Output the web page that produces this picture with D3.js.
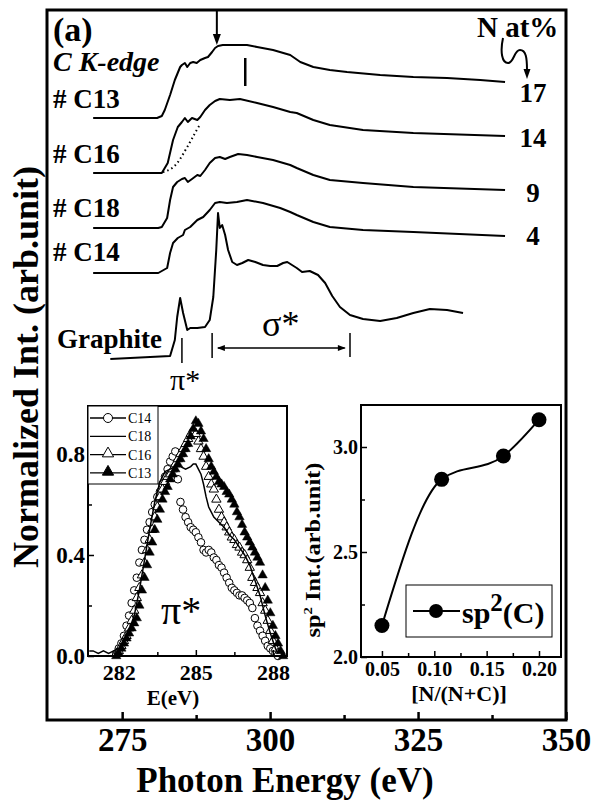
<!DOCTYPE html>
<html>
<head>
<meta charset="utf-8">
<script src="https://cdn.jsdelivr.net/npm/d3@7"></script>
<style>
body { margin: 0; background: #fff; }
svg { display: block; }
text { font-family: "Liberation Serif", "Times New Roman", serif; fill: #000; }
</style>
</head>
<body>
<div id="chart"></div>
<script>
// ---------------- main panel: C K-edge spectra [energy eV, intensity + offset] ----------------
var c13 = [[270.1,60.2],[280.9,60.2],[281.7,60.4],[282.2,61.0],[283.1,62.5],[283.9,64.0],[284.8,65.3],
  [285.1,65.5],[285.6,65.7],[286.0,65.3],[286.5,65.7],[287.0,65.8],[287.6,65.7],[288.2,66.0],[289.0,66.2],
  [289.5,66.3],[290.2,66.8],[290.7,67.2],[291.2,67.4],[292.0,67.5],[293.7,67.5],[296.1,67.5],[297.8,67.3],
  [300.5,67.0],[303.4,66.5],[305.1,65.8],[307.3,65.3],[310.1,65.0],[313.0,64.8],[318.6,64.5],[324.2,64.3],
  [329.9,64.2],[335.5,64.0],[339.7,63.8]];
var c16 = [[270.1,54.7],[281.7,54.7],[282.7,55.7],[283.6,58.0],[284.4,59.3],[285.1,59.8],[285.6,60.2],
  [286.1,59.8],[286.8,60.2],[287.7,60.0],[288.2,60.3],[289.0,61.0],[289.8,61.5],[290.7,61.9],[291.5,62.1],
  [293.2,62.0],[294.9,62.1],[297.8,61.7],[300.5,61.3],[303.4,60.8],[304.5,60.7],[307.3,60.0],[310.1,59.5],
  [315.7,59.0],[324.2,58.7],[339.7,58.4]];
var c16Dotted = [[281.9,54.8],[283.1,55.0],[284.3,55.6],[285.3,56.6],[286.5,57.8],[287.3,58.7],[288.2,59.6]];
var c18 = [[270.1,49.2],[281.1,49.2],[281.7,49.3],[282.6,50.2],[283.1,52.0],[283.6,53.3],[284.3,53.8],
  [285.1,54.1],[285.6,54.2],[286.1,53.8],[286.8,54.1],[287.7,54.5],[288.2,54.4],[289.0,55.0],[289.8,55.7],
  [290.7,56.2],[291.5,56.3],[292.4,56.1],[293.2,56.3],[294.6,56.6],[296.1,56.5],[297.8,56.3],[300.5,56.0],
  [303.4,55.5],[304.5,55.2],[307.3,54.5],[310.1,54.0],[315.7,53.7],[324.2,53.3],[339.7,53.0]];
var c14 = [[270.1,44.7],[281.1,44.7],[282.6,45.2],[283.1,46.7],[283.6,47.7],[284.4,48.2],[285.3,48.5],
  [285.6,49.0],[286.5,49.3],[287.7,50.0],[288.7,50.3],[289.8,51.0],[290.7,51.7],[291.5,51.8],[292.7,51.7],
  [294.4,51.8],[296.1,52.0],[298.8,51.7],[301.7,51.2],[303.4,50.8],[304.5,50.5],[307.3,49.8],[310.1,49.3],
  [315.7,49.0],[324.2,48.8],[339.7,48.4]];
var graphite = [[273.0,36.1],[283.1,36.4],[283.9,38.0],[284.3,40.3],[284.8,42.2],[285.3,40.7],[286.0,39.0],
  [286.5,39.2],[287.7,39.2],[289.0,39.3],[289.8,40.0],[290.4,42.3],[290.9,47.0],[291.2,50.7],[291.5,49.2],
  [291.9,49.5],[292.4,48.5],[292.9,47.0],[293.6,45.8],[294.4,45.5],[295.3,45.7],[296.3,46.0],[297.5,45.8],
  [298.8,45.5],[300.0,45.4],[301.2,45.4],[302.2,45.7],[302.9,45.8],[303.7,45.5],[304.5,45.2],[305.4,44.8],
  [306.7,44.9],[308.1,44.5],[309.3,43.7],[310.5,42.4],[311.8,41.3],[313.5,40.5],[315.7,40.1],[318.6,39.9],
  [321.4,40.2],[324.2,40.7],[327.0,41.1],[329.9,41.0],[332.6,40.7]];
var sampleNames = ["# C13", "# C16", "# C18", "# C14"];
var nAtPercent = ["17", "14", "9", "4"];
var mainTicks = [275, 300, 325, 350];
var mainMinorTicks = [287.5, 312.5, 337.5];

// ---------------- left inset: pi* region ----------------
var insetE = [281.9,282.0,282.1,282.2,282.3,282.4,282.5,282.6,282.7,282.8,282.9,283.0,283.1,283.2,283.3,
  283.4,283.5,283.6,283.7,283.8,283.9,284.0,284.1,284.2,284.3,284.4,284.5,284.6,284.7,284.8,284.9,285.0,
  285.1,285.2,285.3,285.4,285.5,285.6,285.7,285.8,285.9,286.0,286.1,286.2,286.3,286.4,286.5,286.6,286.7,
  286.8,286.9,287.0,287.1,287.2,287.3,287.4,287.5,287.6,287.7,287.8,287.9,288.0,288.1,288.2,288.3,288.4];
var piC14 = [0.01,0.03,0.05,0.08,0.12,0.16,0.21,0.26,0.31,0.37,0.42,0.46,0.50,0.53,0.57,0.60,0.63,0.65,
  0.68,0.71,0.74,0.77,0.79,0.81,0.70,0.61,0.58,0.55,0.53,0.51,0.50,0.49,0.47,0.45,0.42,0.41,0.42,0.41,
  0.39,0.38,0.36,0.35,0.33,0.31,0.29,0.27,0.26,0.25,0.24,0.24,0.23,0.22,0.21,0.19,0.15,0.12,0.10,0.08,
  0.06,0.04,0.03,0.02,0.01,0.00,null,null];
var piC16 = [0.01,0.02,0.04,0.06,0.08,0.11,0.14,0.18,0.23,0.27,0.32,0.37,0.42,0.46,0.50,0.55,0.59,0.63,
  0.66,0.69,0.71,0.72,0.74,0.76,0.78,0.80,0.82,0.84,0.86,0.88,0.89,0.88,0.85,0.82,0.79,0.75,0.71,0.68,
  0.66,0.62,0.58,0.55,0.53,0.51,0.49,0.47,0.46,0.44,0.43,0.41,0.40,0.38,0.35,0.31,0.29,0.27,0.25,0.21,
  0.18,0.14,0.10,0.06,0.03,0.01,null,null];
var piC13 = [0.00,0.01,0.03,0.05,0.07,0.09,0.11,0.13,0.15,0.20,0.26,0.31,0.36,0.41,0.45,0.50,0.54,0.58,
  0.62,0.65,0.67,0.70,0.72,0.74,0.76,0.78,0.80,0.82,0.84,0.87,0.90,0.93,0.92,0.89,0.86,0.82,0.78,0.75,
  0.73,0.71,0.69,0.68,0.67,0.65,0.64,0.62,0.60,0.57,0.55,0.52,0.49,0.47,0.45,0.43,0.41,0.39,0.37,0.32,
  0.27,0.22,0.17,0.12,0.08,0.05,0.02,0.00];
var lineC18E = [280.85,281.0,281.2,281.4,281.6,281.8,282.0,282.2,282.4,282.6,282.8,283.0,283.2,283.4,283.6,
  283.8,284.0,284.2,284.4,284.6,284.8,284.9,285.0,285.1,285.2,285.3,285.4,285.5,285.7,285.9,286.1,286.3,
  286.5,286.7,286.9,287.1,287.3,287.5,287.7,287.9,288.1,288.2];
var lineC18 = [0.02,0.02,0.01,0.02,0.01,0.02,0.03,0.06,0.10,0.16,0.26,0.38,0.50,0.61,0.69,0.73,0.74,0.75,
  0.75,0.74,0.75,0.76,0.76,0.74,0.72,0.68,0.63,0.59,0.55,0.53,0.51,0.48,0.46,0.43,0.40,0.36,0.30,0.24,
  0.16,0.09,0.03,0.01];
var insetXTicks = [282, 285, 288];
var insetXMinor = [283.5, 286.5];
var insetYTicks = [0.0, 0.4, 0.8];
var insetYMinor = [0.2, 0.6];
var legendNames = ["C14", "C18", "C16", "C13"];

// ---------------- right inset: sp2 intensity vs N fraction ----------------
var nFraction = [0.05, 0.107, 0.166, 0.20];
var sp2Int = [2.15, 2.846, 2.957, 3.13];
var rightXTicks = [0.05, 0.10, 0.15, 0.20];
var rightXMinor = [0.075, 0.125, 0.175];
var rightYTicks = [2.0, 2.5, 3.0];
var rightYMinor = [2.25, 2.75];

// ---------------------------------------------------------------------------
var W = 592, H = 802;
var svg = d3.select("#chart").append("svg").attr("width", W).attr("height", H);
svg.append("rect").attr("width", W).attr("height", H).attr("fill", "#fff");

var x = d3.scaleLinear().domain([262.3, 350]).range([47, 566]);
var y = d3.scaleLinear().domain([0, 71]).range([720, 10]);

var line = d3.line().x(d => x(d[0])).y(d => y(d[1]));

// spectra
[c13, c16, c18, c14, graphite].forEach(function (s) {
  svg.append("path").datum(s).attr("d", line)
    .attr("fill", "none").attr("stroke", "#000").attr("stroke-width", 2)
    .attr("stroke-linejoin", "round");
});
svg.append("path").datum(c16Dotted).attr("d", line.curve(d3.curveBasis))
  .attr("fill", "none").attr("stroke", "#000").attr("stroke-width", 2)
  .attr("stroke-dasharray", "1.5,3");
line.curve(d3.curveLinear);

// bottom axis (ticks inward)
var gx = svg.append("g").attr("transform", "translate(0,720)")
  .call(d3.axisBottom(x).tickValues(mainTicks).tickSize(-8).tickPadding(8).tickFormat(d3.format("d")));
svg.append("g").attr("transform", "translate(0,720)")
  .call(d3.axisBottom(x).tickValues(mainMinorTicks).tickSize(-5).tickFormat(""));
svg.selectAll(".domain").remove();
svg.selectAll(".tick line").attr("stroke", "#000").attr("stroke-width", 2.5);
gx.selectAll("text").attr("font-size", 33).attr("font-weight", "bold")
  .attr("font-family", "Liberation Serif").attr("dy", "0.71em");

// frame
svg.append("rect").attr("x", 47).attr("y", 10).attr("width", 519).attr("height", 710)
  .attr("fill", "none").attr("stroke", "#000").attr("stroke-width", 3);

svg.append("text").attr("x", 285).attr("y", 792).attr("text-anchor", "middle")
  .attr("font-size", 35).attr("font-weight", "bold").text("Photon Energy (eV)");
svg.append("text").attr("transform", "translate(38,367) rotate(-90)").attr("text-anchor", "middle")
  .attr("font-size", 36).attr("font-weight", "bold").text("Normalized Int. (arb.unit)");

// annotations
svg.append("text").attr("x", 53).attr("y", 41).attr("font-size", 34).attr("font-weight", "bold").text("(a)");
svg.append("text").attr("x", 53).attr("y", 71).attr("font-size", 28).attr("font-weight", "bold")
  .attr("font-style", "italic").text("C K-edge");
var nameY = [108, 163, 217, 261];
sampleNames.forEach(function (n, i) {
  svg.append("text").attr("x", 53).attr("y", nameY[i]).attr("font-size", 27).attr("font-weight", "bold").text(n);
});
svg.append("text").attr("x", 57).attr("y", 348).attr("font-size", 27).attr("font-weight", "bold").text("Graphite");
svg.append("text").attr("x", 477).attr("y", 37).attr("font-size", 29).attr("font-weight", "bold").text("N at%");
var nY = [102, 147, 202, 245];
nAtPercent.forEach(function (n, i) {
  svg.append("text").attr("x", 533).attr("y", nY[i]).attr("text-anchor", "middle")
    .attr("font-size", 27).attr("font-weight", "bold").text(n);
});
// curly arrow under "N at%"
svg.append("path").attr("d", "M503,38 C500,52 502,63 508,63 C514,63 514,50 520,50 C526,50 527,58 527,70")
  .attr("fill", "none").attr("stroke", "#000").attr("stroke-width", 2);
svg.append("path").attr("d", "M523.5,69 L530.5,69 L527,79 Z").attr("fill", "#000");
// edge arrow and marker
svg.append("line").attr("x1", x(291.0)).attr("x2", x(291.0)).attr("y1", 11).attr("y2", 36)
  .attr("stroke", "#000").attr("stroke-width", 2);
svg.append("path").attr("d", "M" + (x(291.0) - 4) + ",34 L" + (x(291.0) + 4) + ",34 L" + x(291.0) + ",45 Z")
  .attr("fill", "#000");
svg.append("line").attr("x1", x(295.8)).attr("x2", x(295.8)).attr("y1", y(66.2)).attr("y2", y(63.4))
  .attr("stroke", "#000").attr("stroke-width", 2.5);
// pi* / sigma* markers
[[285.1, 38.2, 35.7], [290.2, 38.7, 36.2], [313.5, 38.7, 36.3]].forEach(function (b) {
  svg.append("line").attr("x1", x(b[0])).attr("x2", x(b[0])).attr("y1", y(b[1])).attr("y2", y(b[2]))
    .attr("stroke", "#000").attr("stroke-width", 1.5);
});
svg.append("line").attr("x1", x(291.2)).attr("x2", x(312.6)).attr("y1", y(37.2)).attr("y2", y(37.2))
  .attr("stroke", "#000").attr("stroke-width", 1.5);
svg.append("path").attr("d", "M" + x(291.0) + "," + y(37.2) + " l8,-3 l0,6 Z").attr("fill", "#000");
svg.append("path").attr("d", "M" + x(312.8) + "," + y(37.2) + " l-8,-3 l0,6 Z").attr("fill", "#000");
svg.append("text").attr("x", 170).attr("y", 390).attr("font-size", 30).text("π*");
svg.append("text").attr("x", 262).attr("y", 336).attr("font-size", 36).text("σ*");

// ---------------- left inset ----------------
var xi = d3.scaleLinear().domain([280.8, 288.55]).range([88, 287]);
var yi = d3.scaleLinear().domain([0, 0.99]).range([656, 406]);
var gi = svg.append("g");
gi.append("rect").attr("x", 88).attr("y", 406).attr("width", 199).attr("height", 250).attr("fill", "#fff");

function pts(vals) {
  return insetE.map((e, i) => [e, vals[i]]).filter(d => d[1] !== null);
}
gi.append("g").selectAll("circle").data(pts(piC14)).join("circle")
  .attr("cx", d => xi(d[0])).attr("cy", d => yi(d[1])).attr("r", 3.8)
  .attr("fill", "#fff").attr("stroke", "#000").attr("stroke-width", 1);
var tri = d3.symbol(d3.symbolTriangle, 38);
gi.append("g").selectAll("path").data(pts(piC16)).join("path")
  .attr("d", tri).attr("transform", d => "translate(" + xi(d[0]) + "," + yi(d[1]) + ")")
  .attr("fill", "#fff").attr("stroke", "#000").attr("stroke-width", 1);
gi.append("path").datum(lineC18E.map((e, i) => [e, lineC18[i]]))
  .attr("d", d3.line().x(d => xi(d[0])).y(d => yi(d[1])))
  .attr("fill", "none").attr("stroke", "#000").attr("stroke-width", 1.5);
gi.append("g").selectAll("path").data(pts(piC13)).join("path")
  .attr("d", tri).attr("transform", d => "translate(" + xi(d[0]) + "," + yi(d[1]) + ")")
  .attr("fill", "#000").attr("stroke", "#000").attr("stroke-width", 0.5);

var gix = gi.append("g").attr("transform", "translate(0,656)")
  .call(d3.axisBottom(xi).tickValues(insetXTicks).tickSize(-6).tickPadding(8).tickFormat(d3.format("d")));
gi.append("g").attr("transform", "translate(0,656)")
  .call(d3.axisBottom(xi).tickValues(insetXMinor).tickSize(-4).tickFormat(""));
var giy = gi.append("g").attr("transform", "translate(88,0)")
  .call(d3.axisLeft(yi).tickValues(insetYTicks).tickSize(-6).tickPadding(3).tickFormat(d3.format(".1f")));
gi.append("g").attr("transform", "translate(88,0)")
  .call(d3.axisLeft(yi).tickValues(insetYMinor).tickSize(-4).tickFormat(""));
gi.selectAll(".domain").remove();
gi.selectAll(".tick line").attr("stroke", "#000").attr("stroke-width", 1.5);
gi.selectAll(".tick text").attr("font-family", "Liberation Serif").attr("font-weight", "bold").attr("font-size", 23);
gix.selectAll(".tick text").attr("font-size", 22);
gi.append("rect").attr("x", 88).attr("y", 406).attr("width", 199).attr("height", 250)
  .attr("fill", "none").attr("stroke", "#000").attr("stroke-width", 2);
gi.append("text").attr("x", 173).attr("y", 705).attr("text-anchor", "middle")
  .attr("font-size", 21).attr("font-weight", "bold").text("E(eV)");
gi.append("text").attr("x", 161).attr("y", 624).attr("font-size", 40).text("π*");

// legend
gi.append("rect").attr("x", 88).attr("y", 406).attr("width", 70).attr("height", 78)
  .attr("fill", "#fff").attr("stroke", "#000").attr("stroke-width", 1);
legendNames.forEach(function (n, i) {
  var ly = 418 + i * 18.3;
  gi.append("line").attr("x1", 90).attr("x2", 126).attr("y1", ly).attr("y2", ly)
    .attr("stroke", "#000").attr("stroke-width", 1.3);
  if (n === "C14") {
    gi.append("circle").attr("cx", 108).attr("cy", ly).attr("r", 4.5)
      .attr("fill", "#fff").attr("stroke", "#000");
  } else if (n === "C16" || n === "C13") {
    gi.append("path").attr("d", d3.symbol(d3.symbolTriangle, 55))
      .attr("transform", "translate(108," + (ly - 1) + ")")
      .attr("fill", n === "C13" ? "#000" : "#fff").attr("stroke", "#000");
  }
  gi.append("text").attr("x", 128).attr("y", ly + 5).attr("font-size", 14).text(n);
});

// ---------------- right inset ----------------
var xr = d3.scaleLinear().domain([0.03, 0.221]).range([361, 561]);
var yr = d3.scaleLinear().domain([2.0, 3.2]).range([657, 405]);
var gr = svg.append("g");
gr.append("rect").attr("x", 361).attr("y", 405).attr("width", 200).attr("height", 252).attr("fill", "#fff");
var sp2 = nFraction.map((f, i) => [f, sp2Int[i]]);
gr.append("path").datum(sp2)
  .attr("d", d3.line().x(d => xr(d[0])).y(d => yr(d[1])).curve(d3.curveMonotoneX))
  .attr("fill", "none").attr("stroke", "#000").attr("stroke-width", 2);
gr.append("g").selectAll("circle").data(sp2).join("circle")
  .attr("cx", d => xr(d[0])).attr("cy", d => yr(d[1])).attr("r", 7.5).attr("fill", "#000");

gr.append("g").attr("transform", "translate(0,657)")
  .call(d3.axisBottom(xr).tickValues(rightXTicks).tickSize(-6).tickPadding(5).tickFormat(d3.format(".2f")));
gr.append("g").attr("transform", "translate(0,657)")
  .call(d3.axisBottom(xr).tickValues(rightXMinor).tickSize(-4).tickFormat(""));
gr.append("g").attr("transform", "translate(361,0)")
  .call(d3.axisLeft(yr).tickValues(rightYTicks).tickSize(-6).tickPadding(3).tickFormat(d3.format(".1f")));
gr.append("g").attr("transform", "translate(361,0)")
  .call(d3.axisLeft(yr).tickValues(rightYMinor).tickSize(-4).tickFormat(""));
gr.selectAll(".domain").remove();
gr.selectAll(".tick line").attr("stroke", "#000").attr("stroke-width", 1.5);
gr.selectAll(".tick text").attr("font-family", "Liberation Serif").attr("font-weight", "bold").attr("font-size", 20);
gr.append("rect").attr("x", 361).attr("y", 405).attr("width", 200).attr("height", 252)
  .attr("fill", "none").attr("stroke", "#000").attr("stroke-width", 2);
gr.append("text").attr("x", 459).attr("y", 701).attr("text-anchor", "middle")
  .attr("font-size", 22).attr("font-weight", "bold").text("[N/(N+C)]");
var ylab = gr.append("text").attr("transform", "translate(320,550) rotate(-90)").attr("text-anchor", "middle")
  .attr("font-size", 20).attr("font-weight", "bold")
  .attr("textLength", 175).attr("lengthAdjust", "spacingAndGlyphs");
ylab.append("tspan").text("sp");
ylab.append("tspan").attr("dy", -8).attr("font-size", 12).text("2");
ylab.append("tspan").attr("dy", 8).text(" Int.(arb.unit)");

// legend
gr.append("rect").attr("x", 406).attr("y", 585).attr("width", 146).attr("height", 52)
  .attr("fill", "#fff").attr("stroke", "#000").attr("stroke-width", 1);
gr.append("line").attr("x1", 413).attr("x2", 460).attr("y1", 611).attr("y2", 611)
  .attr("stroke", "#000").attr("stroke-width", 2);
gr.append("circle").attr("cx", 436).attr("cy", 611).attr("r", 7).attr("fill", "#000");
var lt = gr.append("text").attr("x", 462).attr("y", 623).attr("font-size", 30).attr("font-weight", "bold");
lt.append("tspan").text("sp");
lt.append("tspan").attr("dy", -12).attr("font-size", 25).text("2");
lt.append("tspan").attr("dy", 12).text("(C)");
</script>
</body>
</html>
